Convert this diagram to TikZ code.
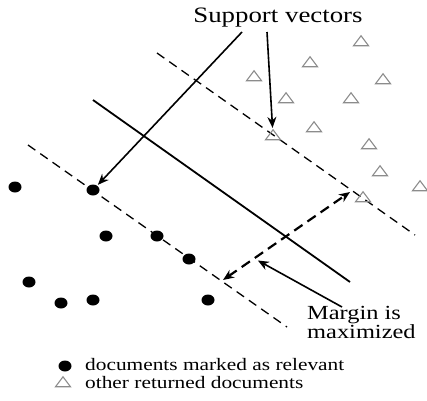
\documentclass[tikz,border=0pt]{standalone}
\usepackage{fontspec}
\setmainfont{Liberation Serif}
\usetikzlibrary{shapes.geometric,arrows.meta}
\newcommand{\wide}[1]{\scalebox{1.22}[1]{#1}}

\tikzset{
    rel/.style={ellipse, fill=black, minimum width=13, minimum height=11, inner sep=0},
    other/.style={isosceles triangle, isosceles triangle stretches, shape border rotate=90,
        draw=gray!90, line width=1.1, minimum width=15, minimum height=10, inner sep=0},
    marginline/.style={dashed, dash pattern=on 9 off 6, line width=1.3},
    pointer/.style={line width=1.6, -{Stealth[length=11, width=9]}, shorten >=1},
}

\begin{document}
\begin{tikzpicture}[x=1pt, y=-1pt]
    \useasboundingbox (0,0) rectangle (427,400);
    \draw[marginline] (157,53) -- (415,235);
    \draw[line width=1.8] (93,100) -- (350,282);
    \draw[marginline] (28,145) -- (287,327);
    \foreach \p [count=\i] in {(361,42),(310,63),(254,77),(383,80),(286,99),(351,99),
        (314,128),(273,136),(369,145),(380,172),(420,187),(363,198)}
        \node[other] (t\i) at \p {};
    \foreach \p [count=\i] in {(15,187),(93,190),(106,236),(157,236),(189,259),
        (29,282),(61,303),(93,300),(208,300)}
        \node[rel] (d\i) at \p {};
    \node[anchor=base, font=\fontsize{22}{24}\selectfont] (sv) at (278,22) {\wide{Support vectors}};
    \coordinate (sva) at (242,32);
    \coordinate (svb) at (267,32);
    \draw[pointer] (sva) -- (d2);
    \draw[pointer] (svb) -- (t8);
    \coordinate (mlo) at (223,280);
    \coordinate (mhi) at (350,192);
    \draw[line width=2.2, dash pattern=on 10 off 6, {Stealth[length=11, width=9]}-{Stealth[length=11, width=9]}] (mlo) -- (mhi);
    \node[anchor=north west, inner sep=0, align=left, font=\fontsize{20}{18}\selectfont] (mx) at (307,306)
        {\wide{Margin is}\\\wide{maximized}};
    \coordinate (mxa) at (342,307);
    \coordinate (mxb) at (257,260);
    \draw[pointer] (mxa) -- (mxb);
    \node[rel] (ld) at (65,366) {};
    \node[other] (lt) at (63,383) {};
    \node[anchor=base west, inner sep=0, font=\fontsize{17.5}{19}\selectfont] (ldt) at (85,370) {\wide{documents marked as relevant}};
    \node[anchor=base west, inner sep=0, font=\fontsize{17.5}{19}\selectfont] (ltt) at (85,388) {\wide{other returned documents}};
\end{tikzpicture}
\end{document}
